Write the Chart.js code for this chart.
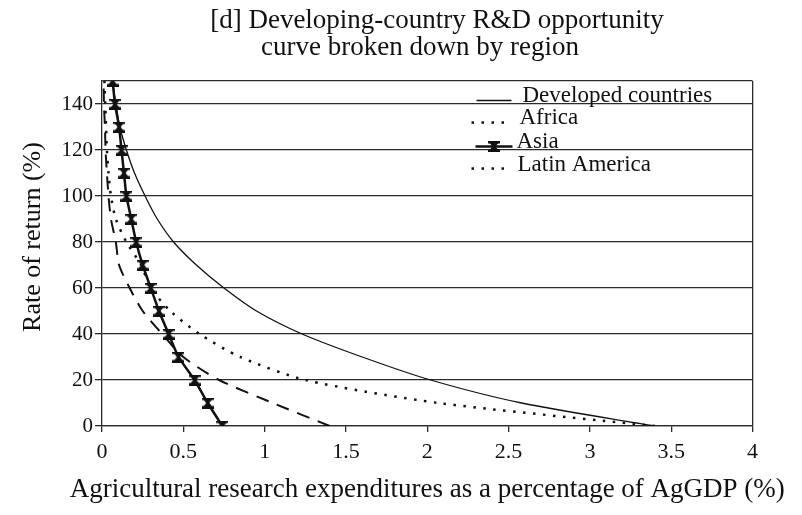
<!DOCTYPE html>
<html><head><meta charset="utf-8">
<script src="https://cdn.jsdelivr.net/npm/chart.js@4.4.1/dist/chart.umd.min.js"></script>
<style>html,body{margin:0;padding:0;background:#fff;}#wrap{width:802px;height:515px;position:relative;}canvas{display:block;}</style>
</head><body><div id="wrap"><canvas id="c" width="802" height="515" style="width:802px;height:515px;"></canvas></div>
<script>
// ---- data ----
const chartTitle = ['[d] Developing-country R&D opportunity', 'curve broken down by region'];
const xAxisTitle = 'Agricultural research expenditures as a percentage of AgGDP (%)';
const yAxisTitle = 'Rate of return (%)';
const seriesNames = ['Developed countries', 'Africa', 'Asia', 'Latin America'];
const returnRates = [0, 10, 20, 30, 40, 50, 60, 70, 80, 90, 100, 110, 120, 130, 140, 150];
const developedX = [3.40, 2.58, 2.02, 1.60, 1.23, 0.95, 0.75, 0.58, 0.44, 0.34, 0.265, 0.20, 0.15, 0.11, 0.085, 0.065];
const africaX = [3.40, 2.07, 1.25, 0.85, 0.60, 0.42, 0.30, 0.24, 0.15, 0.085, 0.055, 0.04, 0.03, 0.025, 0.02, 0.015];
const asiaX = [0.74, 0.65, 0.57, 0.47, 0.41, 0.35, 0.30, 0.25, 0.21, 0.18, 0.15, 0.135, 0.12, 0.105, 0.08, 0.065];
const latinX = [1.40, 1.05, 0.72, 0.50, 0.37, 0.25, 0.17, 0.105, 0.085, 0.055, 0.04, 0.03, 0.022, 0.018, 0.012, 0.01];
const xTicks = [0, 0.5, 1, 1.5, 2, 2.5, 3, 3.5, 4];
const yTicks = [0, 20, 40, 60, 80, 100, 120, 140];
const yMax = 150;

// ---- styling ----
const FONT = "'Liberation Serif', 'Times New Roman', serif";
const INK = '#111';
const GRID = '#2b2b2b';

function pts(xs) { return xs.map((x, i) => ({ x: x, y: returnRates[i] })); }

function makeHourglass(w, h, color) {
  const c = document.createElement('canvas');
  c.width = w; c.height = h;
  const g = c.getContext('2d');
  g.fillStyle = color;
  g.beginPath();
  g.moveTo(0, 0); g.lineTo(w, 0); g.lineTo(w / 2 + 1.5, h / 2);
  g.lineTo(w, h); g.lineTo(0, h); g.lineTo(w / 2 - 1.5, h / 2);
  g.closePath(); g.fill();
  g.fillRect(0, 0, w, 2.5); g.fillRect(0, h - 2.5, w, 2.5);
  return c;
}
const hourglass = makeHourglass(12, 11, INK);

const decor = {
  id: 'decor',
  afterDraw(chart) {
    const ctx = chart.ctx;
    const a = chart.chartArea;
    ctx.save();
    ctx.fillStyle = INK;
    // title
    ctx.font = '27px ' + FONT;
    ctx.textAlign = 'center';
    ctx.textBaseline = 'alphabetic';
    ctx.fillText(chartTitle[0], 437, 28);
    ctx.fillText(chartTitle[1], 420, 55);
    // x axis title
    ctx.font = '27px ' + FONT;
    ctx.fillText(xAxisTitle, (a.left + a.right) / 2, 497);
    // y axis title
    ctx.save();
    ctx.translate(40, 237);
    ctx.rotate(-Math.PI / 2);
    ctx.font = '26px ' + FONT;
    ctx.fillText(yAxisTitle, 0, 0);
    ctx.restore();

    // legend
    const lx = a.right - 282; // ~470
    const rows = [100.5, 122.5, 146.5, 168.5];
    ctx.font = '23px ' + FONT;
    ctx.textAlign = 'left';
    ctx.strokeStyle = INK;
    ctx.fillStyle = INK;
    // Developed
    ctx.lineWidth = 1.3;
    ctx.beginPath(); ctx.moveTo(lx + 6, rows[0]); ctx.lineTo(lx + 41, rows[0]); ctx.stroke();
    ctx.fillText(seriesNames[0], lx + 52, rows[0] + 1.5);
    // Africa (dotted)
    for (let k = 0; k < 4; k++) ctx.fillRect(lx + 1 + k * 10, rows[1] - 1.2, 2.5, 2.5);
    ctx.fillText(seriesNames[1], lx + 49, rows[1] + 1.8);
    // Asia
    ctx.lineWidth = 2.5;
    ctx.beginPath(); ctx.moveTo(lx + 5, rows[2]); ctx.lineTo(lx + 42, rows[2]); ctx.stroke();
    ctx.drawImage(hourglass, lx + 23.5 - hourglass.width / 2, rows[2] - hourglass.height / 2);
    ctx.fillText(seriesNames[2], lx + 46, rows[2] + 1.5);
    // Latin America (dotted in the legend)
    for (let k = 0; k < 4; k++) ctx.fillRect(lx + 1 + k * 10, rows[3] - 1.2, 2.5, 2.5);
    ctx.fillText(seriesNames[3], lx + 47, rows[3] + 2.2);
    ctx.restore();
  }
};

new Chart(document.getElementById('c'), {
  type: 'scatter',
  data: {
    datasets: [
      { label: seriesNames[0], data: pts(developedX), showLine: true, borderColor: INK, borderWidth: 1.3,
        pointRadius: 0, tension: 0.3, order: 2 },
      { label: seriesNames[1], data: pts(africaX), showLine: true, borderColor: INK, borderWidth: 2.5,
        borderDash: [2.5, 7.5], pointRadius: 0, tension: 0.25, order: 3 },
      { label: seriesNames[2], data: pts(asiaX), showLine: true, borderColor: INK, borderWidth: 2.5,
        pointStyle: hourglass, pointRadius: 5, pointBackgroundColor: INK, pointBorderColor: INK,
        tension: 0.15, order: 0 },
      { label: seriesNames[3], data: pts(latinX), showLine: true, borderColor: INK, borderWidth: 2,
        borderDash: [13, 9], pointRadius: 0, tension: 0.25, order: 1 }
    ]
  },
  options: {
    responsive: false,
    maintainAspectRatio: false,
    animation: false,
    devicePixelRatio: 1,
    layout: { padding: { top: 81, right: 49.5, left: 0, bottom: 0 } },
    plugins: { legend: { display: false }, tooltip: { enabled: false }, title: { display: false } },
    scales: {
      x: {
        type: 'linear', min: 0, max: 4,
        afterBuildTicks: s => { s.ticks = xTicks.map(v => ({ value: v })); },
        afterFit: s => { s.height = 89; },
        grid: {
          drawOnChartArea: true, lineWidth: 1.3,
          color: c => (c.tick && c.tick.value === 4) ? GRID : 'rgba(0,0,0,0)',
          tickColor: GRID, tickLength: 6
        },
        border: { display: true, color: GRID, width: 1.3 },
        ticks: { color: INK, font: { family: FONT, size: 22 }, padding: 7, maxRotation: 0, autoSkip: false,
          callback: v => String(v) }
      },
      y: {
        type: 'linear', min: 0, max: yMax,
        afterBuildTicks: s => { s.ticks = yTicks.concat([yMax]).map(v => ({ value: v })); },
        afterFit: s => { s.width = 102; },
        grid: {
          lineWidth: 1.3, color: GRID,
          tickColor: c => (c.tick && c.tick.value === yMax) ? 'rgba(0,0,0,0)' : GRID,
          tickLength: 7
        },
        border: { display: true, color: GRID, width: 1.3 },
        ticks: { color: INK, font: { family: FONT, size: 21 }, padding: 2, autoSkip: false,
          callback: v => (v === yMax ? '' : String(v)) }
      }
    }
  },
  plugins: [decor]
});
</script>
</body></html>
